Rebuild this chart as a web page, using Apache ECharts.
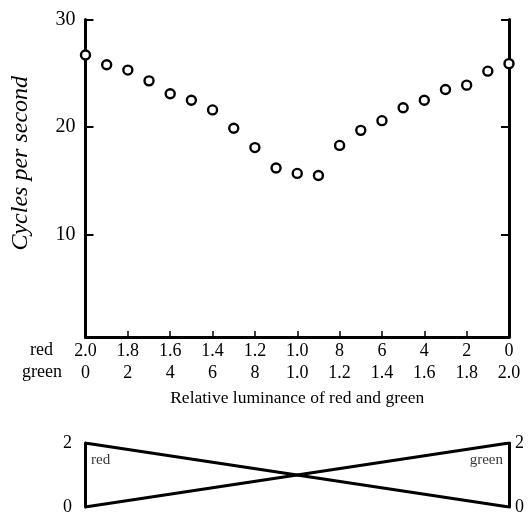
<!DOCTYPE html>
<html>
<head>
<meta charset="utf-8">
<script src="https://cdn.jsdelivr.net/npm/echarts@6/dist/echarts.min.js"></script>
<style>
  html, body { margin: 0; padding: 0; background: #fff; }
  #chart { width: 532px; height: 512px; }
</style>
</head>
<body>
<div id="chart"></div>
<script>
// Flicker fusion frequency as the red/green luminance mix changes
const greenLum = [0, 0.1, 0.2, 0.3, 0.4, 0.5, 0.6, 0.7, 0.8, 0.9, 1.0,
                  1.1, 1.2, 1.3, 1.4, 1.5, 1.6, 1.7, 1.8, 1.9, 2.0];
const cyclesPerSec = [26.7, 25.8, 25.3, 24.3, 23.1, 22.5, 21.6, 19.9, 18.1, 16.2, 15.7,
                      15.5, 18.3, 19.7, 20.6, 21.8, 22.5, 23.5, 23.9, 25.2, 25.9];
const redTicks = ['2.0', '1.8', '1.6', '1.4', '1.2', '1.0', '8', '6', '4', '2', '0'];
const greenTicks = ['0', '2', '4', '6', '8', '1.0', '1.2', '1.4', '1.6', '1.8', '2.0'];
const yTicks = [10, 20, 30];

// Luminance ramps for the lower schematic
const redRamp = [[0, 2], [2, 0]];
const greenRamp = [[0, 0], [2, 2]];
const rampTicks = [0, 2];

const FONT = 'Liberation Serif';
const chart = echarts.init(document.getElementById('chart'), null, { renderer: 'canvas' });

const points = greenLum.map((g, i) => [g, cyclesPerSec[i]]);

const mainY = {
  gridIndex: 0,
  type: 'value',
  min: 0.5,
  max: 30,
  splitLine: { show: false },
  axisLine: { show: true, lineStyle: { color: '#000', width: 3 } },
  axisTick: { show: true, inside: true, length: 8, customValues: yTicks, lineStyle: { color: '#000', width: 2 } }
};

chart.setOption({
  animation: false,
  backgroundColor: '#fff',
  grid: [
    { left: 85.5, right: 23, top: 19.5, bottom: 175, outerBoundsMode: 'none' },
    { left: 85, right: 23, top: 443, height: 64, outerBoundsMode: 'none' }
  ],
  xAxis: [
    {
      gridIndex: 0,
      type: 'value',
      min: 0,
      max: 2,
      interval: 0.2,
      splitLine: { show: false },
      axisLine: { lineStyle: { color: '#000', width: 3 } },
      axisTick: { inside: true, length: 6, lineStyle: { color: '#000', width: 1.5 } },
      axisLabel: {
        margin: 3,
        color: '#000',
        fontFamily: FONT,
        fontSize: 18,
        lineHeight: 22,
        formatter: v => {
          const i = Math.round(v / 0.2);
          return redTicks[i] + '\n' + greenTicks[i];
        }
      },
      name: 'Relative luminance of red and green',
      nameLocation: 'middle',
      nameGap: 52,
      nameTextStyle: { color: '#000', fontFamily: FONT, fontSize: 17.5 }
    },
    { gridIndex: 1, type: 'value', min: 0, max: 2, show: false }
  ],
  yAxis: [
    Object.assign({}, mainY, {
      position: 'left',
      axisLabel: { customValues: yTicks, margin: 10, color: '#000', fontFamily: FONT, fontSize: 20 },
      name: 'Cycles per second',
      nameLocation: 'middle',
      nameRotate: 90,
      nameGap: 53,
      nameTextStyle: { color: '#000', fontFamily: FONT, fontSize: 24, fontStyle: 'italic', padding: [0, 0, 0, 30] }
    }),
    Object.assign({}, mainY, {
      position: 'right',
      axisLabel: { show: false }
    }),
    {
      gridIndex: 1, type: 'value', min: 0, max: 2, interval: 2, position: 'left',
      splitLine: { show: false },
      axisTick: { show: false },
      axisLine: { show: true, lineStyle: { color: '#000', width: 3 } },
      axisLabel: { customValues: rampTicks, margin: 13, color: '#000', fontFamily: FONT, fontSize: 18 }
    },
    {
      gridIndex: 1, type: 'value', min: 0, max: 2, interval: 2, position: 'right',
      splitLine: { show: false },
      axisTick: { show: false },
      axisLine: { show: true, lineStyle: { color: '#000', width: 3 } },
      axisLabel: { customValues: rampTicks, margin: 6, color: '#000', fontFamily: FONT, fontSize: 18 }
    }
  ],
  graphic: [
    { type: 'text', left: 30, top: 341, style: { text: 'red', fill: '#000', font: '18px "Liberation Serif"' } },
    { type: 'text', left: 22, top: 363, style: { text: 'green', fill: '#000', font: '18px "Liberation Serif"' } }
  ],
  series: [
    {
      type: 'scatter',
      xAxisIndex: 0,
      yAxisIndex: 0,
      data: points,
      clip: false,
      z: 5,
      symbol: 'circle',
      symbolSize: 9,
      itemStyle: { color: '#fff', borderColor: '#000', borderWidth: 2.4, opacity: 1 }
    },
    {
      type: 'line', xAxisIndex: 1, yAxisIndex: 2, data: redRamp,
      showSymbol: false, lineStyle: { color: '#000', width: 3 }
    },
    {
      type: 'line', xAxisIndex: 1, yAxisIndex: 2, data: greenRamp,
      showSymbol: false, lineStyle: { color: '#000', width: 3 }
    },
    {
      type: 'scatter', xAxisIndex: 1, yAxisIndex: 2, symbolSize: 0, clip: false,
      data: [
        { value: redRamp[0], label: { show: true, formatter: 'red', position: [6, 10], align: 'left', verticalAlign: 'top' } },
        { value: greenRamp[1], label: { show: true, formatter: 'green', position: [-6, 10], align: 'right', verticalAlign: 'top' } }
      ],
      label: { color: '#000', fontFamily: FONT, fontSize: 15 }
    }
  ]
});
</script>
</body>
</html>
